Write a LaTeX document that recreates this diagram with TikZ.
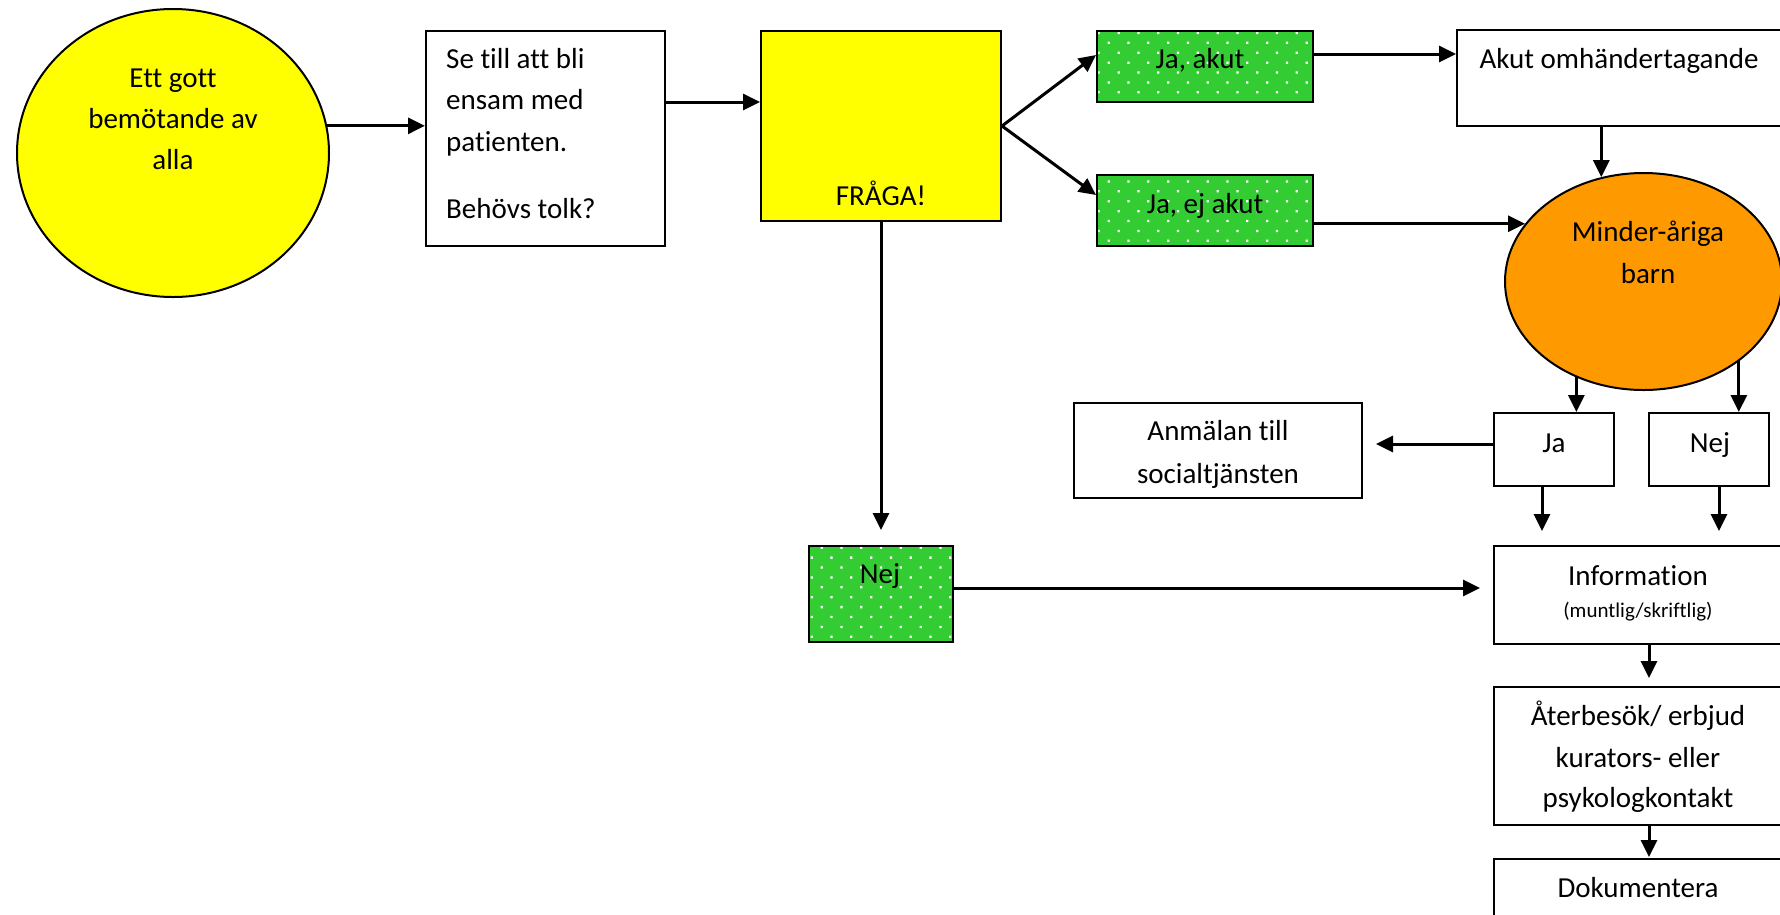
\documentclass[tikz,border=0pt]{standalone}
\usepackage{fontspec}
\setmainfont[Ligatures=NoCommon]{Carlito}
\usetikzlibrary{shapes.geometric,arrows.meta,patterns.meta,calc}
\definecolor{yel}{RGB}{255,255,0}
\definecolor{grn}{RGB}{51,204,51}
\definecolor{org}{RGB}{255,153,0}
\begin{document}
\begin{tikzpicture}[x=1pt,y=-1pt,
  box/.style={draw, line width=2pt, rectangle, inner sep=0pt},
  oval/.style={draw, line width=2pt, ellipse, inner sep=0pt},
  dotbox/.style={box, preaction={fill=grn}, pattern={Dots[distance=14pt,angle=45,radius=1.6pt]}, pattern color=white},
  arr/.style={line width=3pt, -{Triangle[length=17pt,width=16pt]}},
  txt/.style={anchor=base, inner sep=0pt, font=\fontsize{29}{41}\selectfont},
  txtl/.style={txt, anchor=base west},
  small/.style={anchor=base, inner sep=0pt, font=\fontsize{21}{25}\selectfont}]
\clip (0,0) rectangle (1780,914);
\fill[white] (0,0) rectangle (1780,914);

% shapes
\node[oval, fill=yel, minimum width=312pt, minimum height=288pt] (e1) at (173,153) {};
\node[box, minimum width=239pt, minimum height=215pt] (setill) at (545.5,138.5) {};
\node[box, fill=yel, minimum width=240pt, minimum height=190pt] (fraga) at (881,126) {};
\node[dotbox, minimum width=216pt, minimum height=71pt] (jaakut) at (1205,66.5) {};
\node[dotbox, minimum width=216pt, minimum height=71pt] (jaej) at (1205,210.5) {};
\node[box, minimum width=325pt, minimum height=96pt] (akut) at (1619.5,78) {};
\node[oval, fill=org, minimum width=277pt, minimum height=217pt] (minder) at (1643.5,281.5) {};
\node[box, minimum width=120pt, minimum height=73pt] (ja) at (1554,449.5) {};
\node[box, minimum width=120pt, minimum height=73pt] (nej) at (1709,449.5) {};
\node[box, minimum width=288pt, minimum height=95pt] (anm) at (1218,450.5) {};
\node[dotbox, minimum width=144pt, minimum height=96pt] (nejg) at (881,594) {};
\node[box, minimum width=288pt, minimum height=98pt] (info) at (1638,595) {};
\node[box, minimum width=288pt, minimum height=138pt] (ater) at (1638,756) {};
\node[box, minimum width=288pt, minimum height=66pt] (dok) at (1638,892) {};

% texts
\node[txt] (t1a) at (173,87) {Ett gott};
\node[txt] (t1b) at (173,128) {bemötande av};
\node[txt] (t1c) at (173,169) {alla};
\node[txtl] (t2a) at (446,68) {Se till att bli};
\node[txtl] (t2b) at (446,109) {ensam med};
\node[txtl] (t2c) at (446,151) {patienten.};
\node[txtl] (t2d) at (446,218) {Behövs tolk?};
\node[txt] (t3) at (881,205) {FRÅGA!};
\node[txt] (t4) at (1200,68) {Ja, akut};
\node[txt] (t5) at (1205,213) {Ja, ej akut};
\node[txt] (t6) at (1619,68) {Akut omhändertagande};
\node[txt] (t7a) at (1648,241) {Minder-åriga};
\node[txt] (t7b) at (1648,283) {barn};
\node[txt] (t8a) at (1218,440) {Anmälan till};
\node[txt] (t8b) at (1218,483) {socialtjänsten};
\node[txt] (t9) at (1554,452) {Ja};
\node[txt] (t10) at (1710,452) {Nej};
\node[txt] (t11) at (880,583) {Nej};
\node[txt] (t12a) at (1638,585) {Information};
\node[small] (t12b) at (1638,617) {(muntlig/skriftlig)};
\node[txt] (t13a) at (1638,725) {Återbesök/ erbjud};
\node[txt] (t13b) at (1638,767) {kurators- eller};
\node[txt] (t13c) at (1638,807) {psykologkontakt};
\node[txt] (t14) at (1638,897) {Dokumentera};

% connectors
\draw[arr] (e1.10) -- (e1.10 -| setill.west);
\draw[arr] (setill.east |- 0,102) -- (fraga.west |- 0,102);
\draw[arr] (fraga.east) -- (jaakut.west |- 0,55);
\draw[arr] (fraga.east) -- (jaej.west |- 0,195);
\draw[arr] (jaakut.east |- 0,54) -- (akut.west |- 0,54);
\draw[arr] (jaej.east |- minder.154) -- (minder.154);
\draw[arr] (minder.112 |- akut.south) -- (minder.112);
\draw[arr] (minder.-125) -- (minder.-125 |- ja.north);
\draw[arr] (minder.-40) -- (minder.-40 |- nej.north);
\draw[arr, shorten >=13pt] (ja.west |- 0,444) -- (anm.east |- 0,444);
\draw[arr, shorten >=14pt] (1542,0 |- ja.south) -- (1542,0 |- info.north);
\draw[arr, shorten >=14pt] (1719,0 |- nej.south) -- (1719,0 |- info.north);
\draw[arr, shorten >=15pt] (fraga.south) -- (nejg.north);
\draw[arr, shorten >=13pt] (nejg.east |- 0,588) -- (info.west |- 0,588);
\draw[arr, shorten >=8pt] (1649,0 |- info.south) -- (1649,0 |- ater.north);
\draw[arr, shorten >=1pt] (1649,0 |- ater.south) -- (1649,0 |- dok.north);
\end{tikzpicture}
\end{document}
